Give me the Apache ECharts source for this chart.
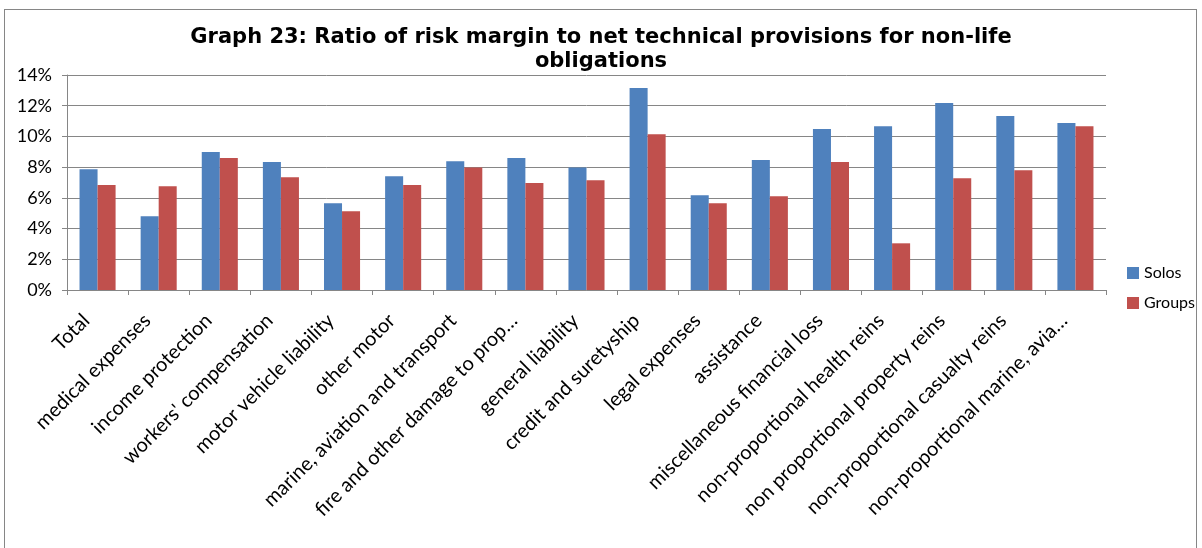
<!DOCTYPE html>
<html>
<head>
<meta charset="utf-8">
<script src="https://cdn.jsdelivr.net/npm/echarts@6/dist/echarts.min.js"></script>
<style>
  html, body { margin: 0; padding: 0; background: #fff; }
  #frame { position: absolute; left: 4px; top: 9px; width: 1193px; height: 560px; border: 1px solid #868686; box-sizing: border-box; }
  #chart { width: 1202px; height: 548px; }
</style>
</head>
<body>
<div id="frame"></div>
<div id="chart"></div>
<script>
const categories = [
  'Total', 'medical expenses', 'income protection', "workers' compensation",
  'motor vehicle liability', 'other motor', 'marine, aviation and transport',
  'fire and other damage to prop…', 'general liability', 'credit and suretyship',
  'legal expenses', 'assistance', 'miscellaneous financial loss',
  'non-proportional health reins', 'non proportional property reins',
  'non-proportional casualty reins', 'non-proportional marine, avia…'
]
const solos = [7.87, 4.80, 8.98, 8.33, 5.65, 7.41, 8.39, 8.59, 7.98, 13.15, 6.17, 8.46, 10.48, 10.67, 12.17, 11.33, 10.87]
const groups = [6.83, 6.76, 8.59, 7.35, 5.13, 6.83, 7.98, 6.96, 7.15, 10.15, 5.65, 6.11, 8.33, 3.04, 7.28, 7.80, 10.67]

const chart = echarts.init(document.getElementById('chart'))
const labelFont = 'Lato, "Open Sans", sans-serif'

chart.setOption({
  animation: false,
  title: {
    text: 'Graph 23: Ratio of risk margin to net technical provisions for non-life\nobligations',
    left: 'center',
    top: 21,
    textStyle: {
      fontFamily: 'DejaVu Sans',
      fontWeight: 'bold',
      fontSize: 21,
      lineHeight: 24,
      color: '#000'
    }
  },
  legend: {
    orient: 'vertical',
    left: 1122,
    top: 260,
    itemWidth: 12,
    itemHeight: 12,
    itemGap: 14,
    icon: 'rect',
    textStyle: { fontFamily: labelFont, fontSize: 16, color: '#000' },
    data: ['Solos', 'Groups']
  },
  grid: { left: 67, right: 96, top: 75, bottom: 258 },
  xAxis: {
    type: 'category',
    data: categories,
    axisLine: { lineStyle: { color: '#868686' } },
    axisTick: { show: true, alignWithLabel: false, length: 5, lineStyle: { color: '#868686' } },
    axisLabel: {
      interval: 0,
      rotate: 45,
      margin: 16,
      padding: [0, 16, 0, 0],
      fontFamily: labelFont,
      fontSize: 20,
      color: '#000'
    }
  },
  yAxis: {
    type: 'value',
    min: 0,
    max: 14,
    interval: 2,
    axisLine: { show: true, lineStyle: { color: '#868686' } },
    axisTick: { show: true, length: 5, lineStyle: { color: '#868686' } },
    splitLine: { lineStyle: { color: '#868686' } },
    axisLabel: {
      formatter: '{value}%',
      fontFamily: labelFont,
      fontSize: 18,
      color: '#000',
      margin: 15
    }
  },
  series: [
    {
      name: 'Solos',
      type: 'bar',
      data: solos,
      barGap: '0%',
      barCategoryGap: '41%',
      itemStyle: { color: '#4F81BD' }
    },
    {
      name: 'Groups',
      type: 'bar',
      data: groups,
      itemStyle: { color: '#C0504D' }
    }
  ]
})
</script>
</body>
</html>
